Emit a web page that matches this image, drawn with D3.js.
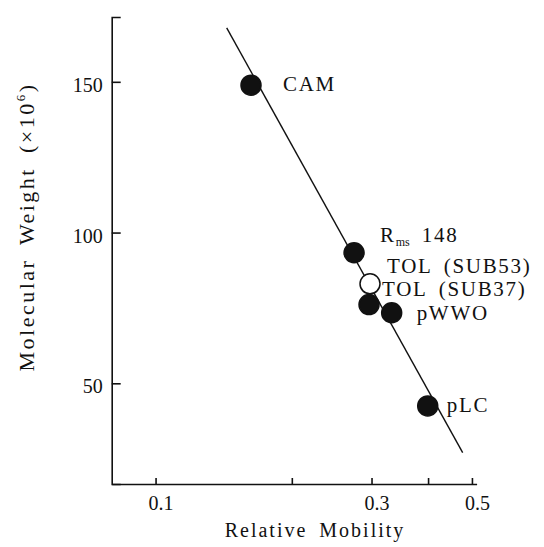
<!DOCTYPE html>
<html>
<head>
<meta charset="utf-8">
<script src="https://cdn.jsdelivr.net/npm/d3@7"></script>
<style>
	body { margin: 0; background: #fff; }
</style>
</head>
<body>
<script>
// plasmid names, mobility (x) and molecular weight x10^6 (y)
var names = ["CAM", "Rms148", "TOL (SUB53)", "TOL (SUB37)", "pWWO", "pLC"];
var mobility = [0.1625, 0.2745, 0.2977, 0.2962, 0.3324, 0.3993];
var weight = [148.9, 93.3, 83.0, 76.1, 73.4, 42.5];
var isOpen = [false, false, true, false, false, false];

// regression line end points
var lineX = [0.1436, 0.477];
var lineY = [167.9, 27.0];

var xTicks = [0.1, 0.2, 0.3, 0.4, 0.5];
var xTickLabels = ["0.1", "", "0.3", "", "0.5"];
var yTicks = [50, 100, 150];

// where each label sits relative to its dot
var labelOffset = [[32, 6], [26, -11], [17, -11], [13, -9], [25, 7], [19, 6]];

var serif = "'Liberation Serif', 'Times New Roman', 'DejaVu Serif', serif";
var width = 544, height = 547;

var svg = d3.select("body")
	.append("svg")
	.attr("width", width)
	.attr("height", height);

var x = d3.scaleLog().domain([0.08, 0.512]).range([111.7, 476.6]);
var y = d3.scaleLinear().domain([16.6, 171.5]).range([484, 17]);

var xAxis = d3.axisBottom(x)
	.tickValues(xTicks)
	.tickFormat(function(d, i) { return xTickLabels[i]; })
	.tickSizeInner(-6)
	.tickSizeOuter(0)
	.tickPadding(12);

var yAxis = d3.axisLeft(y)
	.tickValues(yTicks)
	.tickSizeInner(-9)
	.tickSizeOuter(-9)
	.tickPadding(9);

var gx = svg.append("g")
	.attr("transform", "translate(0," + y.range()[0] + ")")
	.call(xAxis);
gx.selectAll("text").attr("dx", 5);

var gy = svg.append("g")
	.attr("transform", "translate(" + x.range()[0] + ",0)")
	.call(yAxis);
gy.selectAll("text").attr("dy", "0.48em");

svg.selectAll("g").attr("font-family", serif).attr("font-size", 20);
svg.selectAll(".domain, .tick line")
	.attr("stroke", "#111")
	.attr("stroke-width", 1.6);
svg.selectAll(".tick text").attr("fill", "#111");

// fitted line
svg.append("line")
	.attr("x1", x(lineX[0]))
	.attr("y1", y(lineY[0]))
	.attr("x2", x(lineX[1]))
	.attr("y2", y(lineY[1]))
	.attr("stroke", "#111")
	.attr("stroke-width", 1.4);

// open circle first so filled neighbours sit on top
var order = [2, 0, 1, 3, 4, 5];
order.forEach(function(i) {
	svg.append("circle")
		.attr("cx", x(mobility[i]))
		.attr("cy", y(weight[i]))
		.attr("r", 10)
		.attr("fill", isOpen[i] ? "#fff" : "#111")
		.attr("stroke", "#111")
		.attr("stroke-width", 1.5);
});

for (var i = 0; i < names.length; i++) {
	var t = svg.append("text")
		.attr("x", x(mobility[i]) + labelOffset[i][0])
		.attr("y", y(weight[i]) + labelOffset[i][1])
		.attr("font-family", serif)
		.attr("font-size", 21)
		.attr("fill", "#111")
		.attr("letter-spacing", 1.7)
		.attr("word-spacing", 5);
	if (names[i] == "Rms148") {
		t.append("tspan").text("R");
		t.append("tspan").attr("font-size", 12).attr("dy", 4).attr("letter-spacing", 0).text("ms");
		t.append("tspan").attr("dy", -4).attr("dx", 12).text("148");
	} else {
		t.text(names[i]);
	}
}

// axis titles
svg.append("text")
	.attr("x", 315)
	.attr("y", 537)
	.attr("text-anchor", "middle")
	.attr("font-family", serif)
	.attr("font-size", 20)
	.attr("fill", "#111")
	.attr("letter-spacing", 2)
	.attr("word-spacing", 5)
	.text("Relative Mobility");

var yt = svg.append("text")
	.attr("transform", "translate(34,227) rotate(-90)")
	.attr("text-anchor", "middle")
	.attr("font-family", serif)
	.attr("font-size", 22)
	.attr("fill", "#111")
	.attr("letter-spacing", 2.5)
	.attr("word-spacing", 6);
yt.append("tspan").text("Molecular Weight (\u00d710");
yt.append("tspan").attr("font-size", 13).attr("dy", -9).text("6");
yt.append("tspan").attr("dy", 9).text(")");
</script>
</body>
</html>
